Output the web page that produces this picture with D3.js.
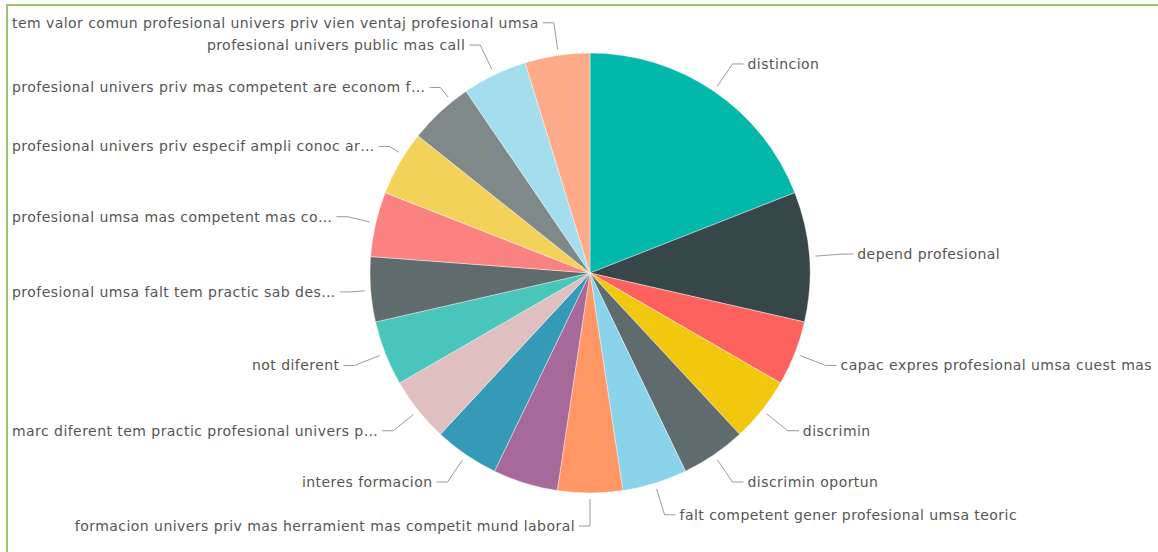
<!DOCTYPE html>
<html>
<head>
<meta charset="utf-8">
<script src="https://cdn.jsdelivr.net/npm/d3@7/dist/d3.min.js"></script>
<style>
  html, body { margin: 0; padding: 0; background: #fff; }
  svg { display: block; }
  .lbl { font-family: "DejaVu Sans", sans-serif; font-size: 14px; letter-spacing: 0.45px; fill: #555; }
</style>
</head>
<body>
<svg id="chart" width="1158" height="552"></svg>
<script>
// Categories in slice order (clockwise from 12 o'clock)
const categories = [
  "distincion",
  "depend profesional",
  "capac expres profesional umsa cuest mas",
  "discrimin",
  "discrimin oportun",
  "falt competent gener profesional umsa teoric",
  "formacion univers priv mas herramient mas competit mund laboral",
  "habil profesional",
  "interes formacion",
  "marc diferent tem practic profesional univers p…",
  "not diferent",
  "profesional umsa falt tem practic sab des…",
  "profesional umsa mas competent mas co…",
  "profesional univers priv especif ampli conoc ar…",
  "profesional univers priv mas competent are econom f…",
  "profesional univers public mas call",
  "tem valor comun profesional univers priv vien ventaj profesional umsa"
];

// Number of mentions per category
const counts = [4, 2, 1, 1, 1, 1, 1, 1, 1, 1, 1, 1, 1, 1, 1, 1, 1];

// Default report palette
const palette = [
  "#01B8AA", "#374649", "#FD625E", "#F2C80F", "#5F6B6D", "#8AD4EB",
  "#FE9666", "#A66999", "#3599B8", "#DFBFBF", "#4AC5BB", "#5F6B6D",
  "#FB8281", "#F4D25A", "#7F898A", "#A4DDEE", "#FDAB89"
];

const W = 1158, H = 552;
const cx = 590, cy = 273, R = 220;
const margin = 12;

const svg = d3.select("#chart");

// frame lines (top and left)
svg.append("line").attr("x1", 6).attr("y1", 5).attr("x2", W).attr("y2", 5)
  .attr("stroke", "#9dc46b").attr("stroke-width", 2);
svg.append("line").attr("x1", 7).attr("y1", 4).attr("x2", 7).attr("y2", H)
  .attr("stroke", "#9dc46b").attr("stroke-width", 2);

const data = categories.map((c, i) => ({ name: c, value: counts[i] }));
const color = d3.scaleOrdinal().domain(categories).range(palette);

const pie = d3.pie().sort(null).value(d => d.value);
const arcs = pie(data);
const arc = d3.arc().innerRadius(0).outerRadius(R);

const g = svg.append("g").attr("transform", `translate(${cx},${cy})`);

g.selectAll("path.slice")
  .data(arcs)
  .join("path")
  .attr("class", "slice")
  .attr("d", arc)
  .attr("fill", d => color(d.data.name))
  .attr("stroke", "#ffffff")
  .attr("stroke-width", 0.4);

// Outside labels with leader lines
const polar = (a, r) => [r * Math.sin(a), -r * Math.cos(a)];
const leadStart = R + 6, leadEnd = R + 33, elbow = 11, gap = 4, minGap = 15;
const placed = { left: [], right: [] };

arcs.forEach(d => {
  const mid = (d.startAngle + d.endAngle) / 2;
  const right = Math.sin(mid) > 1e-6;
  const side = right ? "right" : "left";
  let p1 = polar(mid, leadStart);
  let p2 = polar(mid, leadEnd);
  // drop labels that would collide with one already on that side
  if (placed[side].some(y => Math.abs(y - p2[1]) < minGap)) return;
  placed[side].push(p2[1]);

  const text = g.append("text")
    .attr("class", "lbl")
    .attr("dy", "0.35em")
    .attr("text-anchor", right ? "start" : "end")
    .text(d.data.name);
  const w = text.node().getBBox().width;

  let p3 = [p2[0] + (right ? elbow : -elbow), p2[1]];
  if (!right) {
    // keep long labels inside the left edge: slide the elbow inwards
    const minEnd = margin - cx + w + gap;
    if (p3[0] < minEnd) {
      p3 = [minEnd, p2[1]];
      p2 = [minEnd + elbow, p2[1]];
      const r2 = Math.hypot(p2[0], p2[1]);
      p1 = [p2[0] * leadStart / r2, p2[1] * leadStart / r2];
    }
  }

  text.attr("x", p3[0] + (right ? gap : -gap)).attr("y", p3[1]);

  g.insert("polyline", "text")
    .attr("points", [p1, p2, p3].map(p => p.join(",")).join(" "))
    .attr("fill", "none")
    .attr("stroke", "#9a9a9a")
    .attr("stroke-width", 1);
});
</script>
</body>
</html>
